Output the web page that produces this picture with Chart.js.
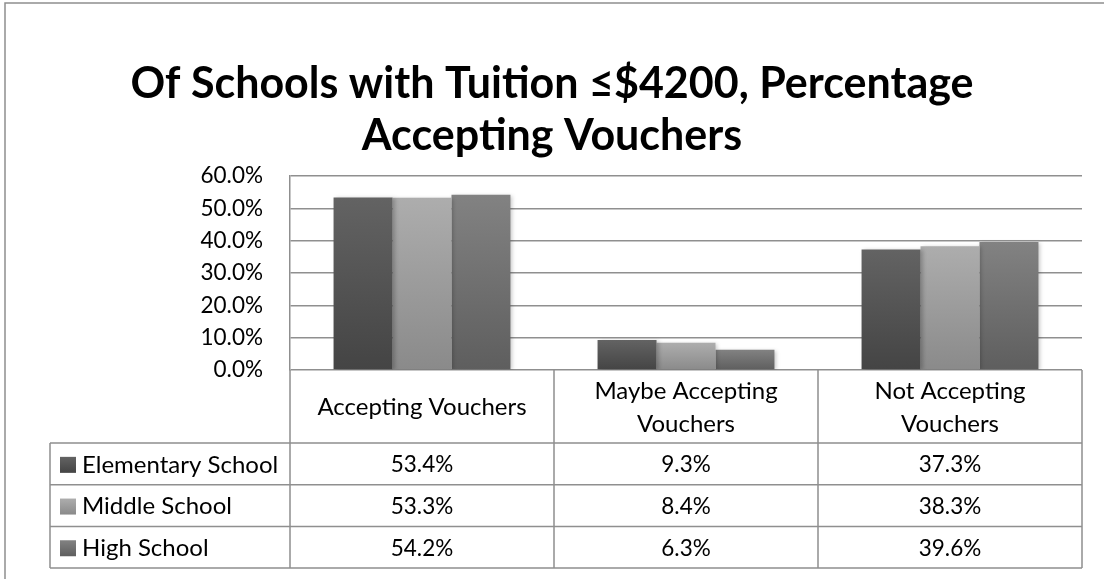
<!DOCTYPE html>
<html>
<head>
<meta charset="utf-8">
<script src="https://cdn.jsdelivr.net/npm/chart.js@4"></script>
<style>
  body { margin: 0; background: #fff; }
  canvas { display: block; }
</style>
</head>
<body>
<canvas id="voucherChart" width="1104" height="579"></canvas>
<script>
const categories = [
  ["Accepting Vouchers"],
  ["Maybe Accepting", "Vouchers"],
  ["Not Accepting", "Vouchers"],
];
const seriesNames = ["Elementary School", "Middle School", "High School"];
const elementary = [53.4, 9.3, 37.3];
const middle = [53.3, 8.4, 38.3];
const high = [54.2, 6.3, 39.6];
const yTicks = [0, 10, 20, 30, 40, 50, 60];

// top / bottom colours of each series' gradient
const shades = [
  ["#636363", "#444444"],
  ["#adadad", "#8a8a8a"],
  ["#828282", "#5e5e5e"],
];

const FONT = "Lato, 'Open Sans', sans-serif";
const LINE = "#8f8f8f";

function barGradient(ctx, i) {
  const chart = ctx.chart;
  if (!chart.chartArea || ctx.raw == null) return shades[i][1];
  const y = chart.scales.y;
  const top = y.getPixelForValue(ctx.raw);
  const bottom = y.getPixelForValue(0);
  const g = chart.ctx.createLinearGradient(0, top, 0, bottom);
  g.addColorStop(0, shades[i][0]);
  g.addColorStop(1, shades[i][1]);
  return g;
}

function makeSet(name, values, i) {
  return {
    label: name,
    data: values,
    backgroundColor: (c) => barGradient(c, i),
    borderWidth: 0,
    categoryPercentage: 0.67,
    barPercentage: 1.0,
  };
}

const shadowPlugin = {
  id: "barShadow",
  beforeDatasetsDraw(chart) {
    const ctx = chart.ctx;
    ctx.save();
    ctx.shadowColor = "rgba(0,0,0,0.22)";
    ctx.shadowBlur = 4;
    ctx.shadowOffsetX = 2;
    ctx.shadowOffsetY = 1;
  },
  afterDatasetsDraw(chart) {
    chart.ctx.restore();
  },
};

// outer frame, and the data table under the plot
const tablePlugin = {
  id: "dataTable",
  afterDraw(chart) {
    const ctx = chart.ctx;
    const area = chart.chartArea;
    const x = chart.scales.x;
    const n = categories.length;
    const colW = (area.right - area.left) / n;
    const tableLeft = 50;
    const headerBottom = 443;
    const rowH = 41.7;
    const tableBottom = headerBottom + rowH * seriesNames.length;

    ctx.save();
    ctx.strokeStyle = LINE;
    ctx.lineWidth = 1.5;

    // frame
    ctx.beginPath();
    ctx.moveTo(5, 579);
    ctx.lineTo(5, 3);
    ctx.lineTo(1104, 3);
    ctx.stroke();

    // vertical lines of the category columns
    ctx.beginPath();
    for (let c = 0; c <= n; c++) {
      const xx = area.left + c * colW;
      ctx.moveTo(xx, area.bottom);
      ctx.lineTo(xx, tableBottom);
    }
    // left edge of the legend column
    ctx.moveTo(tableLeft, headerBottom);
    ctx.lineTo(tableLeft, tableBottom);
    // row lines
    for (let r = 0; r <= seriesNames.length; r++) {
      const yy = headerBottom + r * rowH;
      ctx.moveTo(tableLeft, yy);
      ctx.lineTo(area.right, yy);
    }
    ctx.stroke();

    ctx.fillStyle = "#000";
    ctx.textAlign = "center";
    ctx.textBaseline = "middle";
    ctx.font = "24px " + FONT;

    // header labels
    categories.forEach((lines, c) => {
      const cx = x.getPixelForValue(c);
      const mid = (area.bottom + headerBottom) / 2 + 1;
      const lh = 33;
      lines.forEach((t, k) => {
        ctx.fillText(t, cx, mid + (k - (lines.length - 1) / 2) * lh);
      });
    });

    // rows
    const rows = [elementary, middle, high];
    rows.forEach((vals, r) => {
      const cy = headerBottom + (r + 0.5) * rowH + 1;
      // legend swatch
      const sy = cy - 8;
      const g = ctx.createLinearGradient(0, sy, 0, sy + 16);
      g.addColorStop(0, shades[r][0]);
      g.addColorStop(1, shades[r][1]);
      ctx.fillStyle = g;
      ctx.fillRect(tableLeft + 10, sy, 16, 16);
      ctx.fillStyle = "#000";
      ctx.textAlign = "left";
      ctx.font = "24px " + FONT;
      ctx.fillText(seriesNames[r], tableLeft + 32, cy);
      ctx.textAlign = "center";
      ctx.font = "22.5px " + FONT;
      vals.forEach((v, c) => {
        ctx.fillText(v.toFixed(1) + "%", x.getPixelForValue(c), cy);
      });
    });
    ctx.restore();
  },
};

const ctx = document.getElementById("voucherChart").getContext("2d");

window.voucherChart = new Chart(ctx, {
  type: "bar",
  data: {
    labels: categories,
    datasets: [
      makeSet(seriesNames[0], elementary, 0),
      makeSet(seriesNames[1], middle, 1),
      makeSet(seriesNames[2], high, 2),
    ],
  },
  options: {
    responsive: false,
    animation: false,
    layout: {
      padding: { left: 22, right: 22, top: 0, bottom: 209 },
    },
    plugins: {
      legend: { display: false },
      tooltip: { enabled: false },
      title: {
        display: true,
        text: ["Of Schools with Tuition \u2264$4200, Percentage", "Accepting Vouchers"],
        color: "#000",
        font: { family: FONT, size: 43, weight: "bold", lineHeight: 1.21 },
        padding: { top: 58, bottom: 14 },
      },
    },
    scales: {
      x: {
        display: false,
      },
      y: {
        min: 0,
        max: 60,
        afterFit(scale) {
          scale.width = 268;
        },
        afterBuildTicks(scale) {
          scale.ticks = yTicks.map((v) => ({ value: v }));
        },
        ticks: {
          padding: 27,
          color: "#000",
          font: { family: FONT, size: 22.5 },
          callback: (v) => v.toFixed(1) + "%",
        },
        grid: {
          color: LINE,
          lineWidth: 1.5,
          drawTicks: false,
        },
        border: {
          display: true,
          color: LINE,
          width: 1.5,
        },
      },
    },
  },
  plugins: [shadowPlugin, tablePlugin],
});
</script>
</body>
</html>
